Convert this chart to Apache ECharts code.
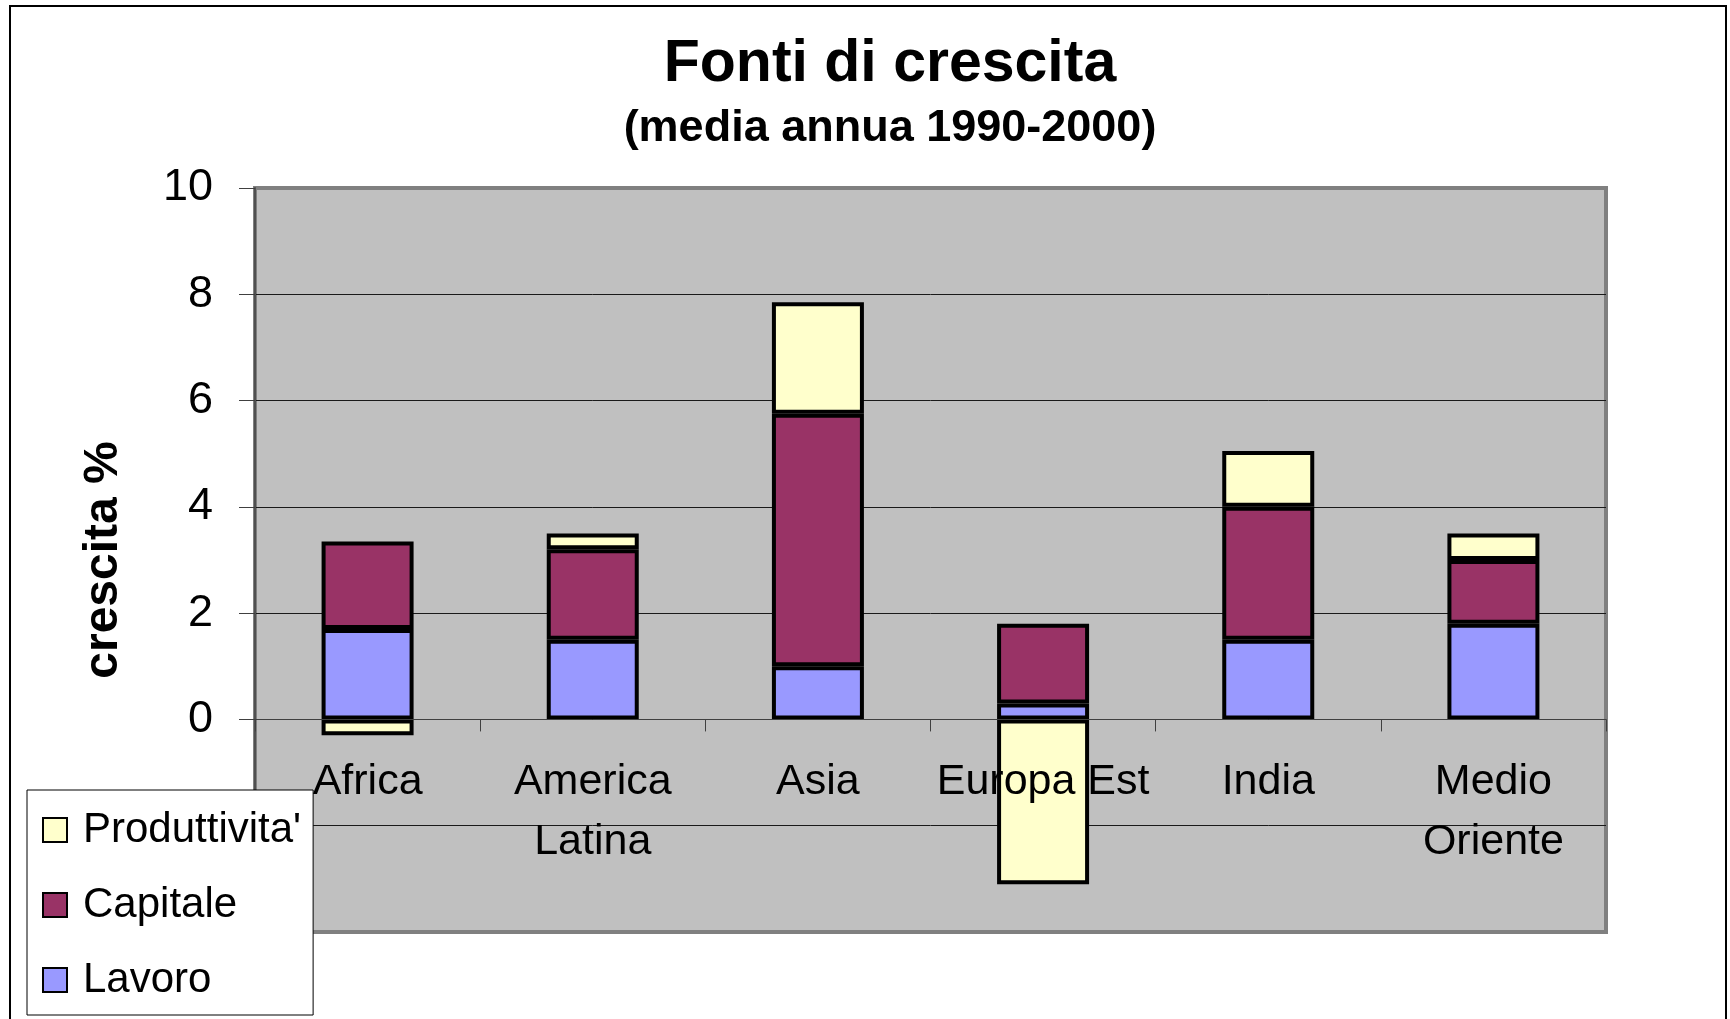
<!DOCTYPE html>
<html>
<head>
<meta charset="utf-8">
<title>Fonti di crescita</title>
<script src="https://cdn.jsdelivr.net/npm/echarts@6/dist/echarts.min.js"></script>
<style>
	html, body { margin: 0; padding: 0; background: #fff; }
	#chart { width: 1730px; height: 1019px; }
</style>
</head>
<body>
<div id="chart"></div>
<script>
// dati
var categories = ['Africa', 'America\nLatina', 'Asia', 'Europa Est', 'India', 'Medio\nOriente'];
var lavoro = [1.7, 1.5, 1.0, 0.3, 1.5, 1.8];
var capitale = [1.65, 1.7, 4.75, 1.5, 2.5, 1.2];
var produttivita = [-0.3, 0.3, 2.1, -3.1, 1.05, 0.5];
var legendNames = ["Produttivita'", 'Capitale', 'Lavoro'];

var font = "'Liberation Sans', Arial, sans-serif";

// asse y da -4 a 10: la linea dello zero sta 4/14 sopra il fondo del grafico
var gridTop = 188, gridBottom = 87, yMin = -4, yMax = 10;
var plotH = 1019 - gridTop - gridBottom;
var zeroOffset = -plotH * (0 - yMin) / (yMax - yMin);

var chart = echarts.init(document.getElementById('chart'));

function barSerie(name, color, data) {
	return {
		name: name,
		type: 'bar',
		stack: 'totale',
		barWidth: 92,
		itemStyle: {
			color: color,
			borderColor: '#000',
			borderWidth: 4
		},
		emphasis: { disabled: true },
		data: data
	};
}

chart.setOption({
	backgroundColor: '#fff',
	animation: false,
	graphic: [{
		type: 'rect',
		shape: { x: 10, y: 6, width: 1716, height: 1100 },
		style: { fill: 'none', stroke: '#000', lineWidth: 2 },
		silent: true
	}, {
		type: 'text',
		x: 890,
		y: 65,
		style: {
			text: 'Fonti di crescita',
			font: 'bold 59px ' + font,
			fill: '#000',
			align: 'center',
			verticalAlign: 'middle'
		}
	}, {
		type: 'text',
		x: 890,
		y: 129,
		style: {
			text: '(media annua 1990-2000)',
			font: 'bold 45px ' + font,
			fill: '#000',
			align: 'center',
			verticalAlign: 'middle'
		}
	}],
	legend: {
		orient: 'vertical',
		left: 27,
		top: 790,
		z: 10,
		padding: [19, 12, 14, 15],
		itemGap: 33,
		itemWidth: 24,
		itemHeight: 24,
		icon: 'rect',
		backgroundColor: '#fff',
		borderColor: '#000',
		borderWidth: 1,
		borderRadius: 0,
		selectedMode: false,
		textStyle: {
			color: '#000',
			fontSize: 42,
			lineHeight: 42,
			fontFamily: font,
			padding: [0, 0, 0, 11]
		},
		data: legendNames
	},
	grid: {
		left: 255,
		right: 124,
		top: gridTop,
		bottom: gridBottom,
		containLabel: false,
		outerBoundsMode: 'none',
		show: true,
		backgroundColor: '#c0c0c0',
		borderColor: '#808080',
		borderWidth: 4
	},
	xAxis: {
		type: 'category',
		data: categories,
		z: 3,
		offset: zeroOffset,
		axisLine: {
			onZero: false,
			lineStyle: { color: '#404040', width: 1 }
		},
		axisTick: {
			show: true,
			length: 12,
			lineStyle: { color: '#404040', width: 1 }
		},
		axisLabel: {
			color: '#000',
			fontSize: 43,
			lineHeight: 60,
			fontFamily: font,
			margin: 33,
			interval: 0
		},
		splitLine: { show: false }
	},
	yAxis: {
		type: 'value',
		min: yMin,
		max: yMax,
		interval: 2,
		name: 'crescita %',
		nameLocation: 'middle',
		nameRotate: 90,
		nameGap: 127,
		nameTextStyle: {
			color: '#000',
			fontSize: 48,
			fontWeight: 'bold',
			fontFamily: font
		},
		axisLine: {
			show: true,
			lineStyle: { color: '#505050', width: 2 }
		},
		axisTick: {
			show: true,
			length: 16,
			lineStyle: { color: '#404040', width: 1 }
		},
		axisLabel: {
			color: '#000',
			fontSize: 45,
			fontFamily: font,
			margin: 42
		},
		splitLine: {
			show: true,
			showMinLine: false,
			showMaxLine: false,
			lineStyle: { color: '#1a1a1a', width: 1 }
		}
	},
	series: [
		barSerie('Lavoro', '#9999ff', lavoro),
		barSerie('Capitale', '#993366', capitale),
		barSerie("Produttivita'", '#ffffcc', produttivita)
	]
});
</script>
</body>
</html>
